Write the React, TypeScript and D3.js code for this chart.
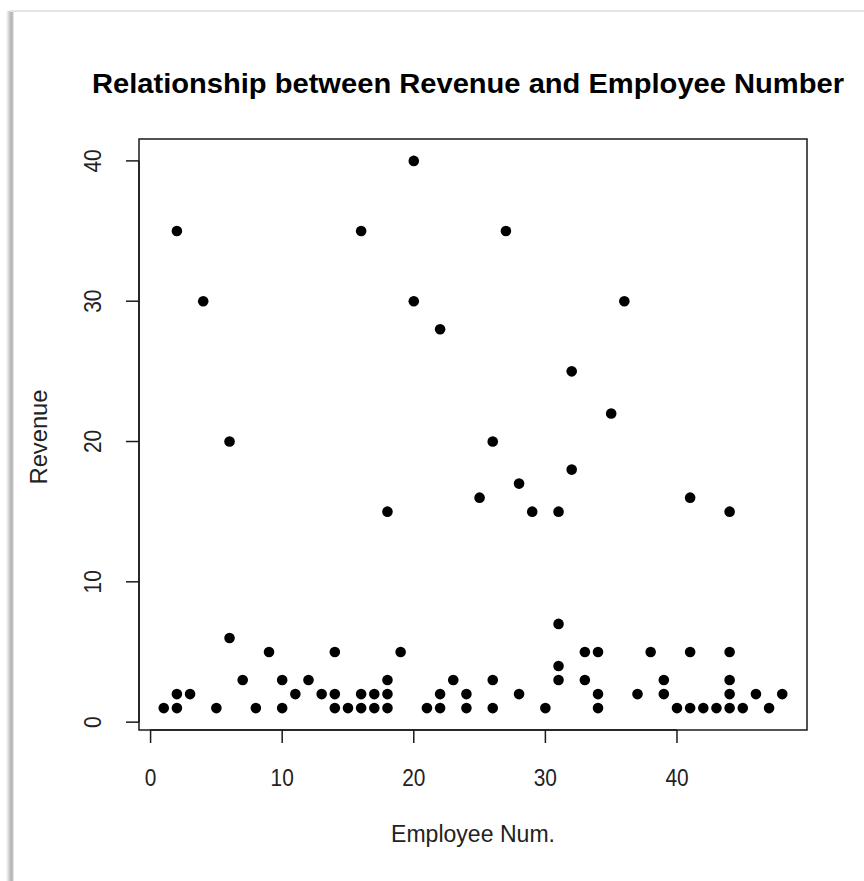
import React from "react";
import * as d3 from "d3";

// Employee count (x) and revenue (y) per observation
const employeeNum: number[] = [
  1, 2, 2, 2, 3, 4, 5, 6, 6, 7, 8, 9, 10, 10, 11, 12, 13, 14, 14, 14, 15,
  16, 16, 16, 17, 17, 18, 18, 18, 18, 19, 20, 20, 21, 22, 22, 22, 23, 24, 24,
  25, 26, 26, 26, 27, 28, 28, 29, 30, 31, 31, 31, 31, 32, 32, 33, 33, 34, 34,
  34, 35, 36, 37, 38, 39, 39, 40, 41, 41, 41, 42, 43, 44, 44, 44, 44, 44, 45,
  46, 47, 48,
];
const revenue: number[] = [
  1, 1, 2, 35, 2, 30, 1, 20, 6, 3, 1, 5, 3, 1, 2, 3, 2, 5, 2, 1, 1,
  35, 2, 1, 2, 1, 15, 3, 2, 1, 5, 40, 30, 1, 28, 2, 1, 3, 2, 1,
  16, 20, 3, 1, 35, 17, 2, 15, 1, 15, 7, 4, 3, 25, 18, 5, 3, 5, 2,
  1, 22, 30, 2, 5, 3, 2, 1, 16, 5, 1, 1, 1, 15, 5, 3, 2, 1, 1,
  2, 1, 2,
];

const xTicks: number[] = [0, 10, 20, 30, 40];
const yTicks: number[] = [0, 10, 20, 30, 40];

const titleText = "Relationship between Revenue and Employee Number";
const xLabel = "Employee Num.";
const yLabel = "Revenue";

export default function App() {
  const W = 864;
  const H = 881;
  const box = { left: 139, right: 807, top: 139, bottom: 730 };

  // R-style 4% padding around the data range
  const xExt = d3.extent(employeeNum) as [number, number];
  const yExt = d3.extent(revenue) as [number, number];
  const xPad = (xExt[1] - xExt[0]) * 0.04;
  const yPad = (yExt[1] - yExt[0]) * 0.04;

  const x = d3
    .scaleLinear()
    .domain([xExt[0] - xPad, xExt[1] + xPad])
    .range([box.left, box.right]);
  const y = d3
    .scaleLinear()
    .domain([yExt[0] - yPad, yExt[1] + yPad])
    .range([box.bottom, box.top]);

  const font = "'Liberation Sans', Arial, sans-serif";
  const ink = "#1a1a1a";
  const tickLen = 13;
  const tickFont = 24;
  // condensed width for tick labels (per character)
  const tickCharW = 11.6;

  return (
    <svg
      width={W}
      height={H}
      style={{ position: "absolute", left: 0, top: 0, background: "#fff" }}
    >
      <defs>
        <linearGradient id="edgeShade" x1="0" x2="1" y1="0" y2="0">
          <stop offset="0" stopColor="#ffffff" />
          <stop offset="0.45" stopColor="#c8c8c8" />
          <stop offset="0.75" stopColor="#b0b0b0" />
          <stop offset="1" stopColor="#f4f4f4" />
        </linearGradient>
      </defs>
      <rect x={0} y={0} width={W} height={H} fill="#fff" />
      {/* page edge shading */}
      <rect x={6} y={11} width={8} height={H - 11} fill="url(#edgeShade)" />
      <line x1={10} x2={W} y1={11} y2={11} stroke="#e4e4e4" strokeWidth={2} />

      {/* title */}
      <text
        x={468}
        y={93}
        textAnchor="middle"
        fontFamily={font}
        fontWeight="bold"
        fontSize={27.5}
        textLength={752}
        lengthAdjust="spacingAndGlyphs"
        fill="#000"
      >
        {titleText}
      </text>

      {/* plot box */}
      <rect
        x={box.left}
        y={box.top}
        width={box.right - box.left}
        height={box.bottom - box.top}
        fill="none"
        stroke={ink}
        strokeWidth={1.5}
      />

      {/* x axis */}
      <line
        x1={x(xTicks[0])}
        x2={x(xTicks[xTicks.length - 1])}
        y1={box.bottom}
        y2={box.bottom}
        stroke={ink}
        strokeWidth={1.5}
      />
      {xTicks.map((t) => (
        <g key={`xt${t}`}>
          <line
            x1={x(t)}
            x2={x(t)}
            y1={box.bottom}
            y2={box.bottom + tickLen}
            stroke={ink}
            strokeWidth={1.5}
          />
          <text
            x={x(t)}
            y={786}
            textAnchor="middle"
            fontFamily={font}
            fontSize={tickFont}
            textLength={String(t).length * tickCharW}
            lengthAdjust="spacingAndGlyphs"
            fill="#222"
          >
            {t}
          </text>
        </g>
      ))}

      {/* y axis */}
      <line
        x1={box.left}
        x2={box.left}
        y1={y(yTicks[0])}
        y2={y(yTicks[yTicks.length - 1])}
        stroke={ink}
        strokeWidth={1.5}
      />
      {yTicks.map((t) => (
        <g key={`yt${t}`}>
          <line
            x1={box.left - tickLen}
            x2={box.left}
            y1={y(t)}
            y2={y(t)}
            stroke={ink}
            strokeWidth={1.5}
          />
          <text
            transform={`translate(${101},${y(t)}) rotate(-90)`}
            textAnchor="middle"
            fontFamily={font}
            fontSize={tickFont}
            textLength={String(t).length * tickCharW}
            lengthAdjust="spacingAndGlyphs"
            fill="#222"
          >
            {t}
          </text>
        </g>
      ))}

      {/* axis titles */}
      <text
        x={473}
        y={842}
        textAnchor="middle"
        fontFamily={font}
        fontSize={23}
        textLength={164}
        lengthAdjust="spacingAndGlyphs"
        fill="#222"
      >
        {xLabel}
      </text>
      <text
        transform={`translate(${47},${437}) rotate(-90)`}
        textAnchor="middle"
        fontFamily={font}
        fontSize={23}
        textLength={95}
        lengthAdjust="spacingAndGlyphs"
        fill="#222"
      >
        {yLabel}
      </text>

      {/* points */}
      {employeeNum.map((e, i) => (
        <circle key={i} cx={x(e)} cy={y(revenue[i])} r={5.3} fill="#000" />
      ))}
    </svg>
  );
}
